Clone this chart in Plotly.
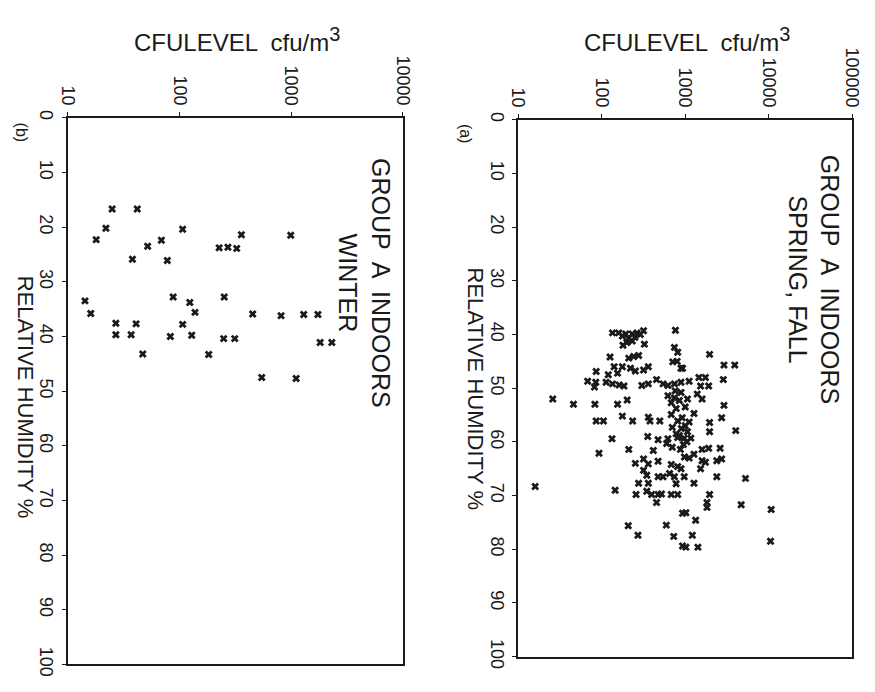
import plotly.graph_objects as go

# ---------------- data ----------------
# Panel (b): Group A indoors, winter
b_rh = [16.7, 16.7, 20.2, 22.3, 20.4, 22.4, 23.5, 25.9, 26.1, 21.4, 23.8, 23.7, 23.9, 21.5,
        33.5, 35.8, 32.8, 33.8, 35.6, 32.8, 35.9, 36.2, 36.0, 36.0, 37.6, 37.7, 37.8, 39.7,
        39.7, 40.0, 39.8, 40.4, 40.4, 43.2, 43.3, 41.1, 41.1, 47.5, 47.7]
b_cfu = [25, 42, 22, 18, 107, 69, 52, 38, 78, 359, 227, 272, 326, 993,
         14.3, 16.1, 88, 124, 138, 252, 453, 813, 1297, 1738, 27, 41, 107, 27,
         37, 83, 129, 249, 313, 47, 183, 1820, 2316, 546, 1109]

# Panel (a): Group A indoors, spring + fall
a_rh = [39.7, 39.7, 39.9, 39.9, 39.7, 39.3, 40.7, 41.2, 40.3, 39.2, 41.8, 44.2, 44.4, 44.1,
        43.9, 42.4, 43.3, 45.1, 46.0, 46.0, 46.3, 46.8, 46.6, 46.0, 47.2, 46.9, 46.3, 48.7,
        48.9, 49.8, 48.9, 49.2, 49.4, 49.6, 49.5, 49.2, 48.4, 49.2, 49.5, 49.2, 48.9, 51.4,
        51.8, 52.7, 52.3, 52.0, 53.0, 53.0, 53.0, 52.2, 56.1, 56.1, 55.2, 56.1, 55.4, 56.1,
        56.1, 54.9, 56.1, 59.4, 59.0, 59.6, 59.4, 59.2, 43.7, 45.7, 45.7, 46.3, 48.4, 48.0,
        48.0, 49.6, 49.6, 48.7, 50.8, 51.1, 52.0, 52.0, 53.2, 55.5, 54.7, 56.3, 56.4, 58.1,
        57.9, 58.1, 59.3, 59.3, 62.1, 61.4, 61.6, 61.4, 64.0, 63.2, 64.1, 63.6, 64.2, 64.6,
        65.0, 65.3, 66.2, 66.5, 66.5, 65.9, 66.5, 67.7, 67.7, 67.8, 68.3, 69.0, 69.8, 69.2,
        69.8, 69.8, 69.7, 69.8, 69.8, 71.3, 73.3, 75.6, 75.5, 77.4, 77.6, 79.4, 61.4, 61.2,
        61.2, 63.0, 62.3, 63.5, 63.8, 63.5, 63.2, 65.0, 66.8, 66.5, 66.5, 67.7, 69.8, 71.3,
        72.2, 71.7, 72.6, 73.2, 74.6, 77.4, 79.6, 79.6, 78.5,
        57.5, 58.5, 60.5, 60.0, 58.8, 57.0, 55.5, 53.8, 50.5, 53.5, 61.0, 60.3, 41.5, 40.5,
        40.0, 42.0, 47.5, 45.0, 57.3, 62.8]
a_cfu = [135, 160, 194, 232, 265, 317, 210, 232, 177, 764, 325, 126, 211, 242,
         277, 743, 813, 710, 141, 177, 221, 253, 317, 362, 155, 86, 891, 68,
         85, 82, 113, 135, 162, 185, 303, 362, 454, 543, 621, 743, 891, 621,
         743, 681, 851, 26, 46, 83, 155, 202, 86, 105, 177, 235, 362, 379,
         497, 681, 813, 133, 356, 474, 621, 813, 1959, 2911, 3917, 929, 2858, 1459,
         1746, 1528, 1910, 1114, 891, 1393, 1592, 1064, 2911, 2729, 1274, 1114, 1959, 1959,
         4027, 1064, 1167, 973, 93, 211, 415, 875, 253, 317, 362, 474, 681, 813,
         891, 317, 347, 474, 543, 650, 743, 277, 362, 778, 16, 145, 258, 347,
         397, 474, 520, 681, 813, 454, 929, 208, 594, 272, 729, 929, 1592, 1910,
         2618, 1114, 1274, 1592, 1746, 2388, 2729, 1528, 5271, 2388, 973, 1274, 1959, 1824,
         1824, 4677, 10690, 1019, 1334, 1217, 1019, 1419, 10500,
         900, 780, 950, 1050, 850, 1000, 920, 780, 760, 1000, 700, 600, 200, 250,
         290, 180, 120, 800, 700, 980]

cfu_ticks_b = [10, 100, 1000, 10000]
cfu_ticks_a = [10, 100, 1000, 10000, 100000]
rh_ticks = [0, 10, 20, 30, 40, 50, 60, 70, 80, 90, 100]

# ---------------- figure ----------------
W, H = 875, 692
FONT = "Liberation Sans"
INK = "#1a1a1a"

fig = go.Figure()
marker = dict(symbol="x", size=7, color=INK, line=dict(width=0))
fig.add_trace(go.Scatter(x=b_cfu, y=b_rh, mode="markers", marker=marker,
                         xaxis="x", yaxis="y", showlegend=False))
fig.add_trace(go.Scatter(x=a_cfu, y=a_rh, mode="markers", marker=marker,
                         xaxis="x2", yaxis="y2", showlegend=False))

def xax(dom, rng, ticks, anchor):
    return dict(domain=dom, anchor=anchor, side="top", type="log", range=rng,
                tickmode="array", tickvals=ticks, ticktext=[str(t) for t in ticks],
                tickangle=90, ticks="outside", ticklen=4, tickcolor=INK,
                showline=True, linecolor=INK, linewidth=1.6, mirror=True,
                showgrid=False, zeroline=False,
                tickfont=dict(family=FONT, size=18, color=INK))

def yax(dom, anchor):
    return dict(domain=dom, anchor=anchor, range=[100, 0],
                tickmode="array", tickvals=rh_ticks, ticktext=[str(t) for t in rh_ticks],
                tickangle=90, ticks="outside", ticklen=4, tickcolor=INK,
                showline=True, linecolor=INK, linewidth=1.6, mirror=True,
                showgrid=False, zeroline=False,
                tickfont=dict(family=FONT, size=18, color=INK))

fig.update_layout(
    width=W, height=H,
    margin=dict(l=0, r=0, t=0, b=0),
    paper_bgcolor="white", plot_bgcolor="white",
    xaxis=xax([59 / W, 402 / W], [1, 4], cfu_ticks_b, "y"),
    yaxis=yax([1 - 676 / H, 1 - 113 / H], "x"),
    xaxis2=xax([520 / W, 862 / W], [1, 5], cfu_ticks_a, "y2"),
    yaxis2=yax([1 - 668 / H, 1 - 115 / H], "x2"),
)

def ann(text, x, y, size, angle=90):
    fig.add_annotation(text=text, x=x / W, y=1 - y / H, xref="paper", yref="paper",
                       showarrow=False, textangle=angle, xanchor="center", yanchor="middle",
                       font=dict(family=FONT, size=size, color=INK))

title_txt = "CFULEVEL  cfu/m<sup><span style='font-size:20px'>3</span></sup>"
ann(title_txt, 232, 32, 24, 0)
ann(title_txt, 693, 32, 24, 0)
ann("RELATIVE HUMIDITY %", 16, 400, 22)
ann("RELATIVE HUMIDITY %", 476, 392, 22)
ann("GROUP  A  INDOORS<br>WINTER", 362, 283, 25)
ann("GROUP  A  INDOORS<br>SPRING, FALL", 822, 280, 25)
ann("(b)", 12, 128, 16)
ann("(a)", 466, 130, 16)

fig.write_html("out.html")
